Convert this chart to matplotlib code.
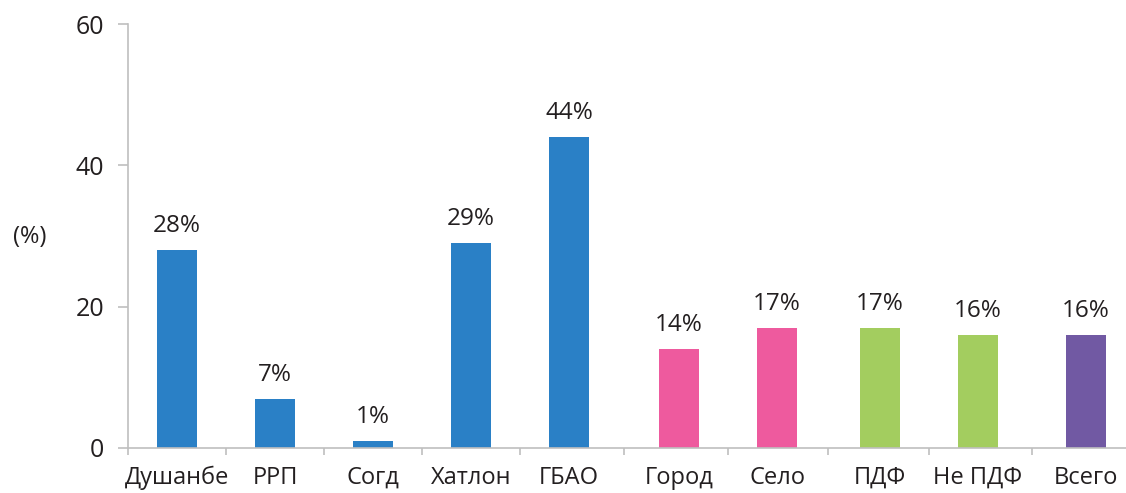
import matplotlib
matplotlib.use("Agg")
import matplotlib.pyplot as plt
import numpy as np

categories = ["Душанбе", "РРП", "Согд", "Хатлон", "ГБАО", "Город", "Село", "ПДФ", "Не ПДФ", "Всего"]
values = [28, 7, 1, 29, 44, 14, 17, 17, 16, 16]
groups = [0, 0, 0, 0, 0, 1, 1, 2, 2, 3]
group_colors = ["#2A80C6", "#EE5A9E", "#A3CD5F", "#7159A3"]
group_gaps = [0.0, 0.12, 0.17, 0.27]
yticks = [0, 20, 40, 60]

plt.rcParams['font.family'] = ['Open Sans', 'DejaVu Sans']
TXT = "#231F20"

fig = plt.figure(figsize=(11.26, 4.93), dpi=100)
ax = fig.add_axes([0.1137, 0.0913, 0.8863, 0.86])

x = np.arange(len(categories)) + np.array([group_gaps[g] for g in groups])
colors = [group_colors[g] for g in groups]
ax.bar(x, values, width=0.41, color=colors, zorder=2)

for xi, v in zip(x, values):
    ax.annotate(f"{v}%", (xi, v), xytext=(0, 8.5), textcoords="offset points",
                ha="center", va="bottom", fontsize=17.5, color=TXT)

ax.set_xlim(-0.5, 9.68)
ax.set_ylim(0, 60)
ax.set_yticks(yticks)
ax.set_yticklabels([str(t) for t in yticks], fontsize=18, color=TXT)

bounds = [-0.5] + list((x[:-1] + x[1:]) / 2)
ax.set_xticks(bounds)
ax.set_xticklabels([])
ax.set_xticks(x, minor=True)
ax.set_xticklabels(categories, minor=True, fontsize=17, color=TXT)
ax.tick_params(axis="x", which="major", length=5, color="#BFBFBF", width=1.2)
ax.tick_params(axis="x", which="minor", length=0, pad=13)
ax.tick_params(axis="y", length=7, color="#BFBFBF", width=1.2, pad=10)

for s in ["top", "right"]:
    ax.spines[s].set_visible(False)
for s in ["left", "bottom"]:
    ax.spines[s].set_color("#BFBFBF")
    ax.spines[s].set_linewidth(1.2)

fig.text(30 / 1126, 1 - 237 / 493, "(%)", ha="center", va="center", fontsize=17, color=TXT)

fig.savefig("out.png", dpi=100)
